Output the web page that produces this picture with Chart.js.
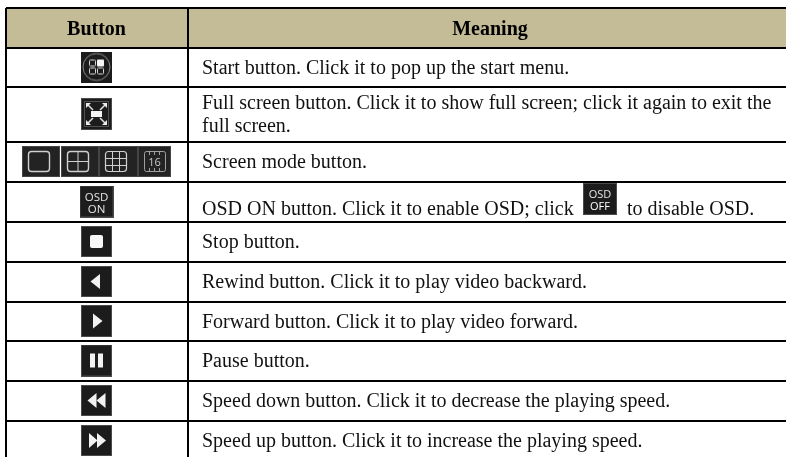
<!DOCTYPE html>
<html><head><meta charset="utf-8">
<style>html,body{margin:0;padding:0;background:#fff}canvas{display:block}</style>
<script src="https://cdn.jsdelivr.net/npm/chart.js@4"></script>
</head><body><canvas id="c" width="786" height="457"></canvas>
<script>
const headers = ['Button', 'Meaning'];
const iconKinds = ['start','fullscreen','screenmode','osdon','stop','rewind','forward','pause','speeddown','speedup'];
const meanings = [
  ['Start button. Click it to pop up the start menu.'],
  ['Full screen button. Click it to show full screen; click it again to exit the','full screen.'],
  ['Screen mode button.'],
  ['OSD ON button. Click it to enable OSD; click'],
  ['Stop button.'],
  ['Rewind button. Click it to play video backward.'],
  ['Forward button. Click it to play video forward.'],
  ['Pause button.'],
  ['Speed down button. Click it to decrease the playing speed.'],
  ['Speed up button. Click it to increase the playing speed.']
];
const osdTail = 'to disable OSD.';
const columnEdges = [6, 188];
const rowEdges = [8, 48, 87, 142, 182, 222, 262, 302, 341, 381, 421, 461];

const DARK='#1c1c1c', SERIF='"Liberation Serif","Times New Roman",serif', SANS='"Open Sans",sans-serif';
function tile(w,h,draw){
  const c=document.createElement('canvas');c.width=w;c.height=h;
  const g=c.getContext('2d');
  g.fillStyle=DARK;g.fillRect(0,0,w,h);
  g.strokeStyle='#4a4a4a';g.lineWidth=1;g.strokeRect(.5,.5,w-1,h-1);
  if(draw)draw(g);
  return c;
}
function poly(g,pts,color){g.fillStyle=color||'#f2f2f2';g.beginPath();pts.forEach((p,i)=>i?g.lineTo(p[0],p[1]):g.moveTo(p[0],p[1]));g.closePath();g.fill();}
function rr(g,x,y,w,h,r,stroke,fill){g.beginPath();g.roundRect(x,y,w,h,r);if(fill){g.fillStyle=fill;g.fill();}if(stroke){g.strokeStyle=stroke;g.stroke();}}
function arrow(g,cx,cy,sx,sy){
  poly(g,[[cx,cy],[cx+5*sx,cy],[cx,cy+5*sy]],'#eeeeee');
  g.strokeStyle='#dddddd';g.lineWidth=1.6;g.beginPath();g.moveTo(cx+2*sx,cy+2*sy);g.lineTo(cx+7*sx,cy+7*sy);g.stroke();
}
const iconMakers={
  start:()=>tile(31,31,g=>{
    g.fillStyle=DARK;g.fillRect(0,0,31,31);
    g.strokeStyle='#8a8a8a';g.lineWidth=1;g.beginPath();g.arc(15.5,15.5,13.5,0,7);g.stroke();
    g.lineWidth=1;
    rr(g,8.5,8.5,6,6,1,'#d8d8d8');rr(g,16,8,7,7,1,null,'#f5f5f5');
    rr(g,8.5,16.5,6,6,1,'#d8d8d8');rr(g,16.5,16.5,6,6,1,'#d8d8d8');
  }),
  fullscreen:()=>tile(31,32,g=>{
    g.strokeStyle='#505050';g.lineWidth=1;g.strokeRect(3.5,3.5,24,25);
    g.fillStyle='#f4f4f4';g.fillRect(10,13,11,6);
    arrow(g,5,5,1,1);arrow(g,26,5,-1,1);arrow(g,5,27,1,-1);arrow(g,26,27,-1,-1);
  }),
  screenmode:()=>{
    const c=document.createElement('canvas');c.width=149;c.height=31;
    const g=c.getContext('2d');
    const tiles=[[0,38],[39,38],[77,39],[116,33]];
    tiles.forEach(([x,w])=>{g.fillStyle='#232323';g.fillRect(x,0,w,31);g.strokeStyle='#454545';g.lineWidth=1;g.strokeRect(x+.5,.5,w-1,30);});
    const L='#d0d0d0';
    g.lineWidth=1.4;
    rr(g,6.5,5.5,21,20,3,L);
    rr(g,45.5,5.5,21,20,3,L);
    g.strokeStyle=L;g.lineWidth=1;
    g.beginPath();g.moveTo(56,5.5);g.lineTo(56,25.5);g.moveTo(45.5,15.5);g.lineTo(66.5,15.5);g.stroke();
    g.lineWidth=1.2;
    rr(g,83.5,5.5,21,20,3,L);
    g.strokeStyle=L;g.lineWidth=1;
    g.beginPath();g.moveTo(90.5,5.5);g.lineTo(90.5,25.5);g.moveTo(97.5,5.5);g.lineTo(97.5,25.5);g.moveTo(83.5,12.5);g.lineTo(104.5,12.5);g.moveTo(83.5,19.5);g.lineTo(104.5,19.5);g.stroke();
    rr(g,122.5,5.5,21,20,2,'#a0a0a0');
    g.strokeStyle='#a0a0a0';g.beginPath();
    [127.5,132.5,137.5].forEach(x=>{g.moveTo(x,5.5);g.lineTo(x,9);g.moveTo(x,22);g.lineTo(x,25.5);});
    g.stroke();
    return c;
  },
  osdon:()=>tile(34,32),
  stop:()=>tile(31,31,g=>rr(g,9,9,13,13,2,null,'#f7f7f7')),
  rewind:()=>tile(31,31,g=>poly(g,[[19,8],[19,23],[9.5,15.5]])),
  forward:()=>tile(31,32,g=>poly(g,[[12,8.5],[12,23.5],[21.5,16]])),
  pause:()=>tile(31,32,g=>{g.fillStyle='#f2f2f2';g.fillRect(9,9,5,14);g.fillRect(17,9,5,14);}),
  speeddown:()=>tile(31,31,g=>{poly(g,[[15.5,8],[15.5,23],[6.5,15.5]]);poly(g,[[24.5,8],[24.5,23],[15.5,15.5]]);}),
  speedup:()=>tile(31,31,g=>{poly(g,[[8,8],[8,23],[16.5,15.5]]);poly(g,[[16,8],[16,23],[25,15.5]]);})
};
const osdOffIcon=tile(34,32);

const colMid=(columnEdges[0]+columnEdges[1])/2-0.5;
const rowMid=i=>(rowEdges[i]+rowEdges[i+1])/2;
const iconPoints=iconKinds.map((k,i)=>({x:colMid,y:rowMid(i+1)-0.5}));
iconPoints.push({x:600,y:199});
const iconStyles=iconKinds.map(k=>iconMakers[k]());
iconStyles.push(osdOffIcon);

const textPlugin={id:'tableText',afterDatasetsDraw(chart){
  const {ctx,scales:{x,y}}=chart;
  const put=(s,vx,vy,font,color,align)=>{ctx.font=font;ctx.fillStyle=color;ctx.textAlign=align||'left';ctx.textBaseline='alphabetic';ctx.fillText(s,x.getPixelForValue(vx),y.getPixelForValue(vy));};
  ctx.save();
  ctx.filter='blur(0.3px)';
  const HEAD='bold 20px '+SERIF, BODY='20px '+SERIF;
  put(headers[0],96.5,35,HEAD,'#000','center');
  put(headers[1],490,35,HEAD,'#000','center');
  meanings.forEach((lines,i)=>{
    const m=rowMid(i+1);
    if(lines.length===2){put(lines[0],202,109,BODY,'#111');put(lines[1],202,132,BODY,'#111');}
    else put(lines[0],202,i===3?215:m+6,BODY,'#111');
  });
  put(osdTail,627,215,BODY,'#111');
  const S=(n)=>n+'px '+SANS;
  put('OSD',96.5,200.5,S(11.5),'#e4e4e4','center');
  put('ON',96.5,213,S(11.5),'#e4e4e4','center');
  put('OSD',600,198,S(11),'#e4e4e4','center');
  put('OFF',600,210,S(11),'#ffffff','center');
  put('16',154.5,166,S(11),'#c8c8c8','center');
  ctx.restore();
}};

new Chart(document.getElementById('c'),{
  type:'scatter',
  data:{datasets:[
    {type:'scatter',data:iconPoints,pointStyle:iconStyles,pointRadius:16,showLine:false,order:1},
    {type:'line',data:[{x:columnEdges[0],y:rowEdges[1]},{x:786,y:rowEdges[1]}],borderWidth:0,pointRadius:0,
     backgroundColor:'#c4bb97',fill:{value:rowEdges[0]},order:2}
  ]},
  options:{
    responsive:false,animation:false,events:[],
    layout:{autoPadding:false,padding:{left:columnEdges[0],top:rowEdges[0],right:0,bottom:0}},
    plugins:{legend:{display:false},tooltip:{enabled:false},title:{display:false}},
    scales:{
      x:{type:'linear',min:columnEdges[0],max:786,
         afterBuildTicks:a=>{a.ticks=columnEdges.map(v=>({value:v}));},
         ticks:{display:false,autoSkip:false},border:{display:false},
         grid:{color:'#000',lineWidth:2,drawTicks:false,z:1}},
      y:{type:'linear',min:rowEdges[0],max:457,reverse:true,
         afterBuildTicks:a=>{a.ticks=rowEdges.filter(v=>v<=457).map(v=>({value:v}));},
         ticks:{display:false,autoSkip:false},border:{display:false},
         grid:{color:'#000',lineWidth:2,drawTicks:false,z:1}}
    }
  },
  plugins:[textPlugin]
});
</script></body></html>
